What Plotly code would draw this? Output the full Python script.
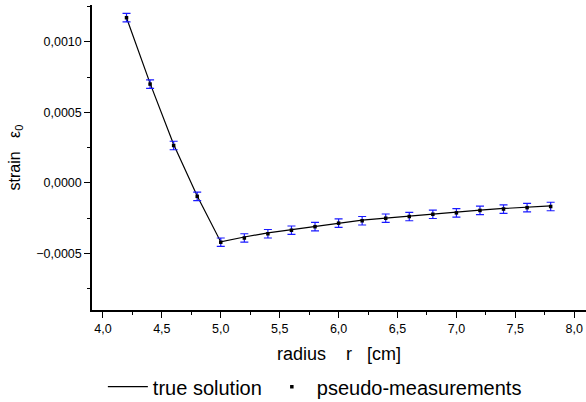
import plotly.graph_objects as go

radius = [4.2, 4.4, 4.6, 4.8, 5.0, 5.2, 5.4, 5.6, 5.8, 6.0, 6.2, 6.4, 6.6, 6.8, 7.0, 7.2, 7.4, 7.6, 7.8]
true_strain = [0.00117, 0.000705, 0.000272, -0.000093, -0.000418, -0.000383, -0.000354, -0.000330,
               -0.000308, -0.000283, -0.000263, -0.000249, -0.000234, -0.000217, -0.000207,
               -0.000192, -0.000181, -0.000172, -0.000163]
meas_strain = [0.00117, 0.000700, 0.000265, -0.000095, -0.000420, -0.000390, -0.000360, -0.000335,
               -0.000310, -0.000285, -0.000268, -0.000250, -0.000238, -0.000222, -0.000212,
               -0.000195, -0.000185, -0.000175, -0.000167]
meas_err = [0.00003] * len(radius)

x_ticks = [4.0, 4.5, 5.0, 5.5, 6.0, 6.5, 7.0, 7.5, 8.0]
y_ticks = [-0.0005, 0.0, 0.0005, 0.0010]

NB = "\u00a0"

fig = go.Figure()
fig.add_trace(go.Scatter(
    x=radius, y=true_strain, mode="lines", name="true solution",
    line=dict(color="black", width=1.2),
))
fig.add_trace(go.Scatter(
    x=radius, y=meas_strain, mode="markers", name="pseudo-measurements",
    marker=dict(color="black", size=3.5, symbol="square"),
    error_y=dict(type="data", array=meas_err, visible=True, color="#1a1aff", thickness=1.2, width=4),
))

font_family = "Liberation Sans, Arial, sans-serif"
fig.update_layout(
    width=586, height=402,
    margin=dict(l=92, r=0, t=5, b=92, autoexpand=False),
    paper_bgcolor="white", plot_bgcolor="white",
    separators=",.",
    font=dict(family=font_family, color="black", size=12),
    showlegend=True,
    legend=dict(orientation="h", x=0.022, xanchor="left", yref="container", y=0.038, yanchor="middle",
                font=dict(size=20), itemwidth=40, bgcolor="rgba(0,0,0,0)"),
    xaxis=dict(
        range=[3.907, 8.1], tickvals=x_ticks, tickformat=".1f", automargin=False,
        showgrid=False, zeroline=False, showline=True, linecolor="black", linewidth=1.5,
        ticks="outside", ticklen=6, tickwidth=1.2, tickcolor="black",
        minor=dict(dtick=0.25, tick0=4.0, ticks="outside", ticklen=3, tickwidth=1, tickcolor="black", showgrid=False),
        title=dict(text="radius" + NB * 3 + " r" + NB * 2 + " [cm]", font=dict(size=18), standoff=13),
        tickfont=dict(size=12.5),
    ),
    yaxis=dict(
        range=[-0.0009, 0.00126], tickvals=y_ticks, tickformat=".4f", automargin=False,
        showgrid=False, zeroline=False, showline=True, linecolor="black", linewidth=1.5,
        ticks="outside", ticklen=6, tickwidth=1.2, tickcolor="black",
        minor=dict(dtick=0.00025, tick0=0.0, ticks="outside", ticklen=3, tickwidth=1, tickcolor="black", showgrid=False),
        title=dict(text="strain" + NB * 2 + " ε<sub>0</sub>", font=dict(size=16), standoff=12),
        tickfont=dict(size=12.5),
    ),
)

fig.write_html("out.html")
